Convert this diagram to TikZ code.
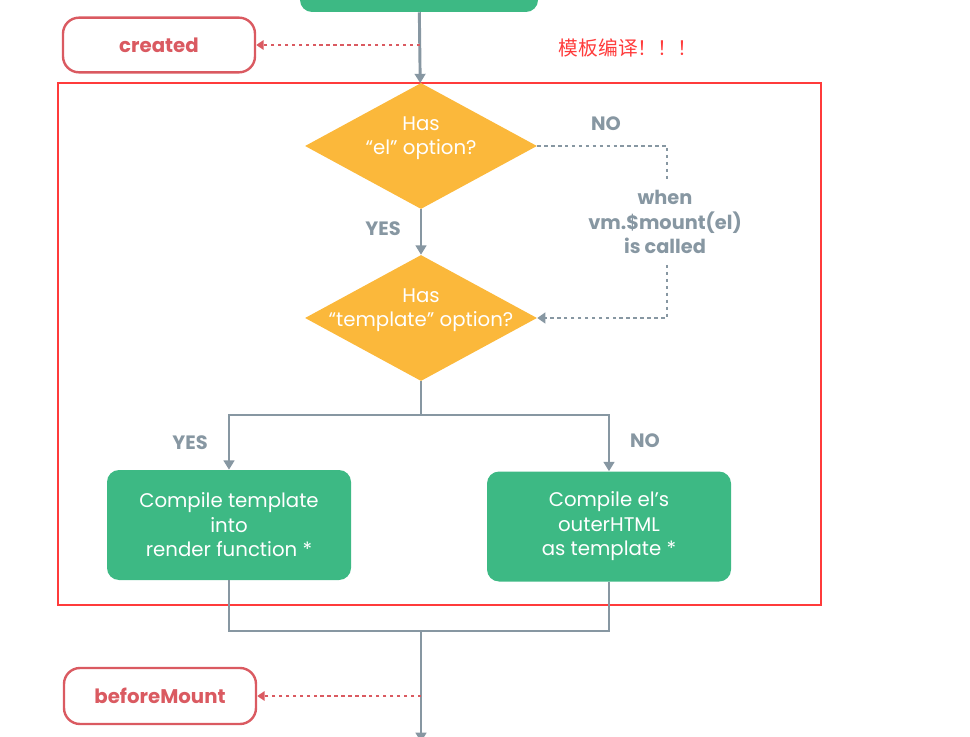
\documentclass[tikz,border=0pt]{standalone}
\usepackage{fontspec}
\setmainfont{Poppins}
\newfontfamily\cjk{Noto Sans CJK SC}
\usetikzlibrary{shapes.geometric,arrows.meta}
\definecolor{vgreen}{HTML}{3DB984}
\definecolor{vorange}{HTML}{FBB83B}
\definecolor{vgray}{HTML}{8797A2}
\definecolor{vred}{HTML}{DA5A61}
\definecolor{vframe}{HTML}{FF3B3B}
\begin{document}
\begin{tikzpicture}[x=0.75pt,y=-0.75pt,
  greenbox/.style={rectangle, rounded corners=9pt, fill=vgreen, text=white, align=center, font=\fontsize{14.8}{18.4}\selectfont},
  hookbox/.style={rectangle, rounded corners=12pt, draw=vred, line width=1.8pt, fill=white, text=vred, font=\bfseries\fontsize{14.8}{16}\selectfont},
  decision/.style={diamond, aspect=1.84, inner sep=0pt, minimum width=174pt, minimum height=94.5pt, fill=vorange},
  decisiontext/.style={text=white, align=center, font=\fontsize{14.8}{18.4}\selectfont},
  answer/.style={text=vgray, align=center, font=\bfseries\fontsize{14.5}{18.4}\selectfont},
  flowline/.style={draw=vgray, line width=2.2pt},
  arr/.style={-{Triangle[width=8pt,length=7pt]}},
  dotline/.style={draw=vgray, line width=1.8pt, dash pattern=on 2.6pt off 2.6pt},
  hookline/.style={draw=vred, line width=1.6pt, dash pattern=on 2.6pt off 2.6pt, -{Triangle[width=7pt,length=5.5pt]}}]
\useasboundingbox (0,0) rectangle (970,737);

\node[greenbox, minimum width=178.5pt, minimum height=39pt] (init) at (419,-14) {};
\node[hookbox, minimum width=144pt, minimum height=41pt] (created) at (159,45) {created};
\node[text=vframe, font=\cjk\fontsize{14.8}{16}\selectfont] (note) at (628,48) {模板编译！！！};
\draw[vframe, line width=2.2pt] (58,83) rectangle (821,605);

\node[decision] (hasel) at (421,146) {};
\node[decisiontext] (haseltext) at (421,138) {Has\\“el” option?};
\node[decision] (hastpl) at (421,318) {};
\node[decisiontext] (hastpltext) at (421,310) {Has\\“template” option?};
\node[answer] (yes1) at (383,229) {YES};
\node[answer] (no1) at (606,124) {NO};
\node[answer] (when) at (665,222) {when\\vm.\$mount(el)\\is called};
\coordinate (nodown) at (667,180);
\coordinate (noup) at (667,265);

\node[greenbox, minimum width=183pt, minimum height=82.5pt] (render) at (229,525) {Compile template\\into\\render function *};
\node[greenbox, minimum width=183pt, minimum height=82.5pt] (outer) at (609,526.5) {Compile el’s\\outerHTML\\as template *};
\node[answer] (yes2) at (190,443) {YES};
\node[answer] (no2) at (645,441) {NO};
\coordinate (split) at (421,415);
\coordinate (join) at (421,631);
\coordinate (bottom) at (421,742);

\node[hookbox, minimum width=144pt, minimum height=42pt] (beforemount) at (160,696) {beforeMount};
\coordinate (createdhook) at (420,45);
\coordinate (mounthook) at (421,696);

\draw[flowline, arr] (init) -- (hasel);
\draw[hookline] (createdhook) -- (created);
\draw[flowline, arr] (hasel) -- (hastpl);
\draw[dotline] (hasel.east) -| (nodown);
\draw[dotline, -{Triangle[width=8pt,length=6pt]}] (noup) |- (hastpl.east);
\draw[flowline] (hastpl) -- (split);
\draw[flowline, arr] (split) -| (render);
\draw[flowline, arr] (split) -| (outer);
\draw[flowline] (render) -- (render.south |- join) -| (outer);
\draw[flowline, arr] (join) -- (bottom);
\draw[hookline] (mounthook) -- (beforemount);

\end{tikzpicture}
\end{document}
